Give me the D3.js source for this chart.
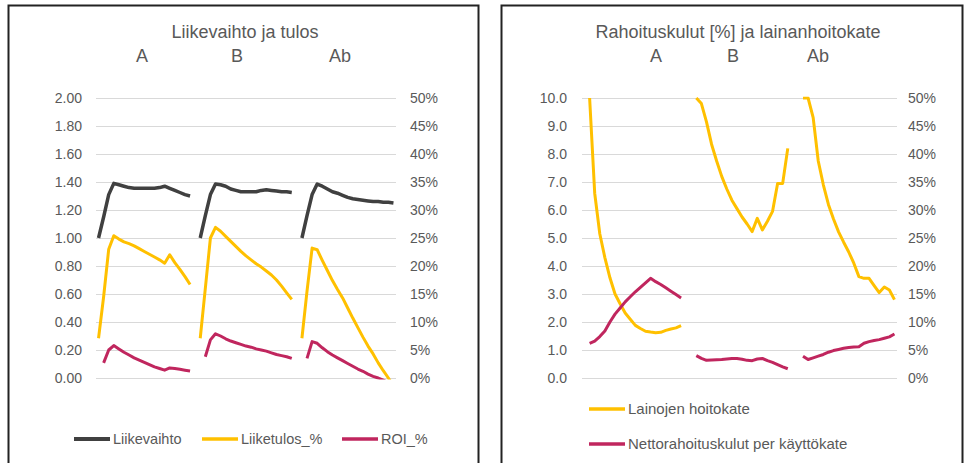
<!DOCTYPE html>
<html>
<head>
<meta charset="utf-8">
<script src="https://cdn.jsdelivr.net/npm/d3@7"></script>
<style>
  html, body { margin: 0; padding: 0; background: #fff; }
  svg { display: block; }
  text { font-family: "Liberation Sans", Arial, sans-serif; }
</style>
</head>
<body>
<svg id="chart" width="965" height="463"></svg>
<script>
// ---------------- DATA ----------------
const groupLabels = ["A", "B", "Ab"];

// Left chart: "Liikevaihto ja tulos"
const leftTitle = "Liikevaihto ja tulos";
const leftTicksPrimary = [0, 0.2, 0.4, 0.6, 0.8, 1.0, 1.2, 1.4, 1.6, 1.8, 2.0];
const leftTicksSecondary = [0, 5, 10, 15, 20, 25, 30, 35, 40, 45, 50];

const liikevaihtoA  = [1.00,1.15,1.31,1.39,1.38,1.37,1.36,1.355,1.355,1.355,1.355,1.355,1.36,1.37,1.355,1.34,1.325,1.31,1.30];
const liikevaihtoB  = [1.00,1.16,1.31,1.385,1.38,1.37,1.35,1.34,1.33,1.33,1.33,1.33,1.34,1.345,1.34,1.335,1.33,1.33,1.325];
const liikevaihtoAb = [1.00,1.16,1.31,1.385,1.37,1.35,1.33,1.32,1.305,1.29,1.28,1.275,1.27,1.265,1.26,1.26,1.255,1.255,1.25];

const liiketulosA  = [7.1,14.5,23.0,25.4,24.8,24.3,24.0,23.6,23.1,22.6,22.1,21.6,21.1,20.5,22.0,20.6,19.4,18.1,16.7];
const liiketulosB  = [7.1,16.0,25.0,26.9,26.2,25.3,24.4,23.5,22.6,21.8,21.1,20.4,19.8,19.1,18.4,17.5,16.4,15.2,14.05];
const liiketulosAb = [7.1,15.5,23.2,22.9,21.0,19.2,17.4,15.8,14.3,12.5,10.7,9.0,7.3,5.7,4.3,2.7,1.3,0.0,-1.5];

const roiA  = [null,2.7,5.0,5.8,5.2,4.6,4.1,3.6,3.2,2.8,2.4,2.0,1.7,1.4,1.8,1.7,1.55,1.4,1.25];
const roiB  = [null,3.8,6.8,7.9,7.5,7.0,6.6,6.3,6.0,5.7,5.5,5.2,5.0,4.8,4.5,4.2,4.0,3.8,3.5];
const roiAb = [null,3.5,6.5,6.2,5.4,4.7,4.1,3.6,3.1,2.6,2.1,1.6,1.2,0.7,0.3,0.0,-0.4,-0.8,-1.2];

// Right chart: "Rahoituskulut [%] ja lainanhoitokate"
const rightTitle = "Rahoituskulut [%] ja lainanhoitokate";
const rightTicksPrimary = [0, 1, 2, 3, 4, 5, 6, 7, 8, 9, 10];
const rightTicksSecondary = [0, 5, 10, 15, 20, 25, 30, 35, 40, 45, 50];

const hoitokateA  = [10.0,6.6,5.15,4.3,3.58,3.0,2.65,2.32,2.1,1.88,1.77,1.67,1.64,1.62,1.63,1.70,1.75,1.79,1.87];
const hoitokateB  = [10.0,9.8,9.15,8.35,7.75,7.2,6.75,6.35,6.05,5.75,5.5,5.23,5.70,5.29,5.6,5.95,6.95,6.95,8.2];
const hoitokateAb = [10.0,10.0,9.3,7.75,6.9,6.2,5.68,5.22,4.85,4.5,4.1,3.62,3.56,3.56,3.3,3.05,3.25,3.14,2.8];

const nettoA  = [6.2,6.6,7.4,8.4,10.0,11.4,12.5,13.6,14.5,15.4,16.2,17.0,17.8,17.2,16.7,16.1,15.5,14.9,14.3];
const nettoB  = [4.0,3.5,3.15,3.2,3.25,3.3,3.4,3.5,3.5,3.35,3.15,3.1,3.4,3.5,3.1,2.8,2.4,2.0,1.65];
const nettoAb = [3.9,3.3,3.6,3.9,4.2,4.6,4.9,5.1,5.3,5.45,5.55,5.6,6.2,6.5,6.7,6.85,7.1,7.35,7.85];

const legendLeft  = ["Liikevaihto", "Liiketulos_%", "ROI_%"];
const legendRight = ["Lainojen hoitokate", "Nettorahoituskulut per käyttökate"];

// ---------------- STYLE ----------------
const COL_GRAY = "#404040", COL_YEL = "#FFC000", COL_RED = "#C0265E";
const TXT = "#595959", GRID = "#d9d9d9";

// Build category rows: groups separated by blank categories
function joinGroups(groups, lead, gap) {
  const out = [];
  for (let i = 0; i < lead; i++) out.push(null);
  groups.forEach((g, gi) => {
    if (gi > 0) for (let i = 0; i < gap; i++) out.push(null);
    g.forEach(v => out.push(v));
  });
  return out;
}

const svg = d3.select("#chart");

// panel frames
svg.append("rect").attr("x", 8.5).attr("y", 5.5).attr("width", 470).attr("height", 470)
  .attr("fill", "none").attr("stroke", "#222").attr("stroke-width", 2);
svg.append("rect").attr("x", 501.5).attr("y", 5.5).attr("width", 461).attr("height", 470)
  .attr("fill", "none").attr("stroke", "#222").attr("stroke-width", 2);

function drawChart(cfg) {
  const g = svg.append("g");
  const nCat = cfg.series[0].values.length;
  const x = d3.scaleBand().domain(d3.range(nCat)).range([cfg.left, cfg.right]);
  const xc = i => x(i) + x.bandwidth() / 2;
  const yP = d3.scaleLinear().domain(cfg.primaryDomain).range([cfg.bottom, cfg.top]);
  const yS = d3.scaleLinear().domain(cfg.secondaryDomain).range([cfg.bottom, cfg.top]);

  // gridlines
  const grid = g.append("g").attr("transform", `translate(${cfg.left},0)`)
    .call(d3.axisLeft(yP).tickValues(cfg.primaryTicks).tickSize(-(cfg.right - cfg.left)).tickFormat(""));
  grid.select(".domain").remove();
  grid.selectAll("line").attr("stroke", GRID).attr("stroke-width", 1);

  // left axis labels
  const ax1 = g.append("g").attr("transform", `translate(${cfg.left},0)`)
    .call(d3.axisLeft(yP).tickValues(cfg.primaryTicks).tickSize(0).tickPadding(cfg.padL).tickFormat(cfg.fmtP));
  ax1.select(".domain").remove();
  ax1.selectAll("text").attr("fill", TXT).style("font-size", "14px").style("font-family", "Liberation Sans, Arial, sans-serif");

  const ax2 = g.append("g").attr("transform", `translate(${cfg.right},0)`)
    .call(d3.axisRight(yS).tickValues(cfg.secondaryTicks).tickSize(0).tickPadding(cfg.padR).tickFormat(d => d + "%"));
  ax2.select(".domain").remove();
  ax2.selectAll("text").attr("fill", TXT).style("font-size", "14px").style("font-family", "Liberation Sans, Arial, sans-serif");

  // clip
  const cid = "clip" + cfg.id;
  svg.append("clipPath").attr("id", cid).append("rect")
    .attr("x", cfg.left - 5).attr("y", cfg.top - 1.5).attr("width", cfg.right - cfg.left + 10).attr("height", cfg.bottom - cfg.top + 3);

  const lines = g.append("g").attr("clip-path", `url(#${cid})`);
  cfg.series.forEach(s => {
    const y = s.axis === "P" ? yP : yS;
    const line = d3.line().defined(d => d != null).x((d, i) => xc(i)).y(d => y(d));
    lines.append("path").datum(s.values).attr("d", line)
      .attr("fill", "none").attr("stroke", s.color).attr("stroke-width", s.width)
      .attr("stroke-linejoin", "round").attr("stroke-linecap", "butt");
  });

  // titles
  g.append("text").attr("x", cfg.titleX).attr("y", 38).attr("text-anchor", "middle")
    .attr("fill", TXT).style("font-size", "18px").text(cfg.title);
  groupLabels.forEach((lab, i) => {
    g.append("text").attr("x", cfg.groupX[i]).attr("y", 62).attr("text-anchor", "middle")
      .attr("fill", TXT).style("font-size", "18px").text(lab);
  });
}

drawChart({
  id: "L", left: 96, right: 396, top: 98, bottom: 378,
  primaryDomain: [0, 2], secondaryDomain: [0, 50],
  primaryTicks: leftTicksPrimary, secondaryTicks: leftTicksSecondary,
  fmtP: d3.format(".2f"), padL: 14, padR: 14,
  title: leftTitle, titleX: 245, groupX: [142, 237, 340],
  series: [
    { values: joinGroups([liikevaihtoA, liikevaihtoB, liikevaihtoAb], 0, 1), axis: "P", color: COL_GRAY, width: 3.5 },
    { values: joinGroups([liiketulosA, liiketulosB, liiketulosAb], 0, 1), axis: "S", color: COL_YEL, width: 3 },
    { values: joinGroups([roiA, roiB, roiAb], 0, 1), axis: "S", color: COL_RED, width: 3 }
  ]
});

drawChart({
  id: "R", left: 582, right: 897, top: 98, bottom: 378,
  primaryDomain: [0, 10], secondaryDomain: [0, 50],
  primaryTicks: rightTicksPrimary, secondaryTicks: rightTicksSecondary,
  fmtP: d3.format(".1f"), padL: 15, padR: 11,
  title: rightTitle, titleX: 738, groupX: [656, 733, 818],
  series: [
    { values: joinGroups([hoitokateA, hoitokateB, hoitokateAb], 1, 2), axis: "P", color: COL_YEL, width: 3 },
    { values: joinGroups([nettoA, nettoB, nettoAb], 1, 2), axis: "S", color: COL_RED, width: 3 }
  ]
});

// legends
const legL = svg.append("g");
const legLx = [74, 202, 342];
const legLcol = [COL_GRAY, COL_YEL, COL_RED];
legendLeft.forEach((t, i) => {
  legL.append("line").attr("x1", legLx[i]).attr("x2", legLx[i] + 36).attr("y1", 439).attr("y2", 439)
    .attr("stroke", legLcol[i]).attr("stroke-width", i === 0 ? 4 : 3.5);
  legL.append("text").attr("x", legLx[i] + 39).attr("y", 439).attr("dy", "0.35em")
    .attr("fill", TXT).style("font-size", "14.5px").text(t);
});
const legR = svg.append("g");
const legRy = [409, 444];
const legRcol = [COL_YEL, COL_RED];
legendRight.forEach((t, i) => {
  legR.append("line").attr("x1", 589).attr("x2", 625).attr("y1", legRy[i]).attr("y2", legRy[i])
    .attr("stroke", legRcol[i]).attr("stroke-width", 3.5);
  legR.append("text").attr("x", 628).attr("y", legRy[i]).attr("dy", "0.35em")
    .attr("fill", TXT).style("font-size", "15px").text(t);
});
</script>
</body>
</html>
